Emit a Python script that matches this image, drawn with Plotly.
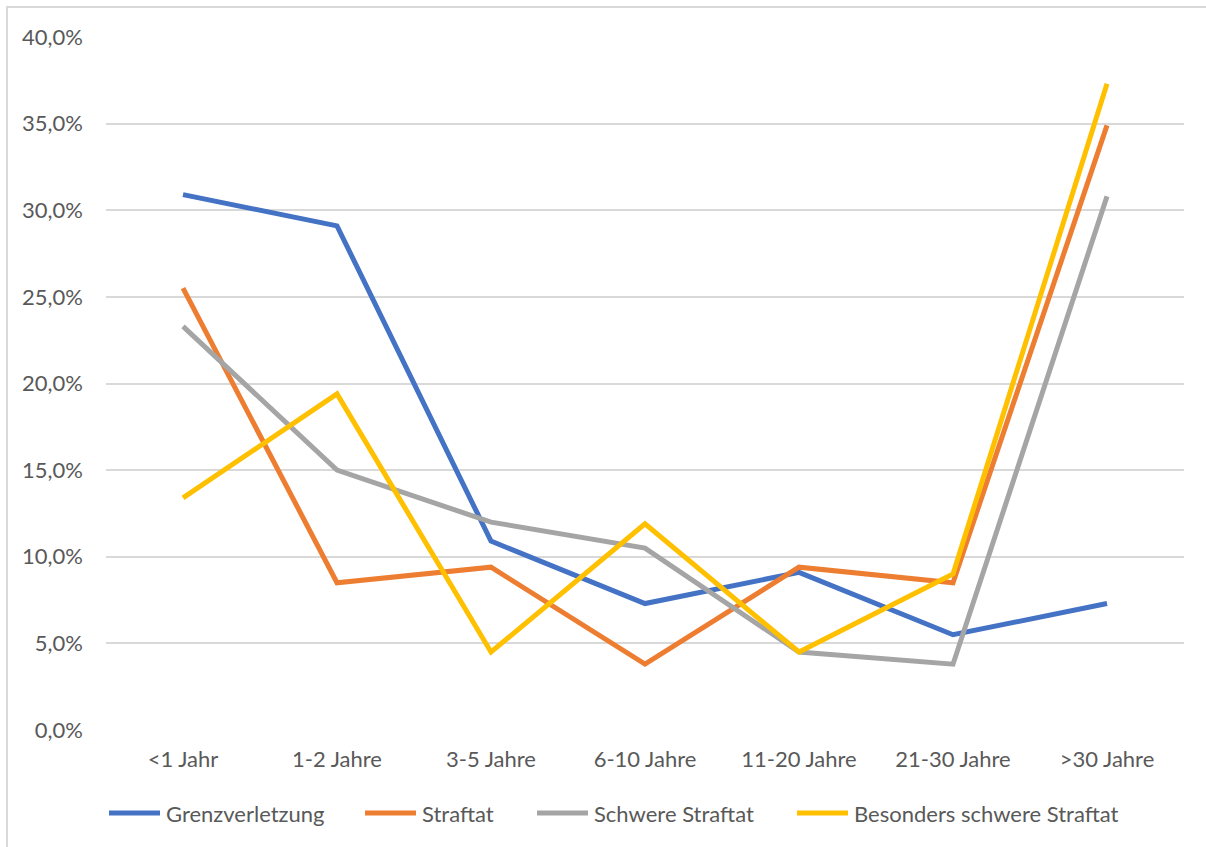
import plotly.graph_objects as go

# Dauer-Kategorien und Anteile je Deliktschwere
kategorien = ["<1 Jahr", "1-2 Jahre", "3-5 Jahre", "6-10 Jahre", "11-20 Jahre", "21-30 Jahre", ">30 Jahre"]

grenzverletzung = [0.309, 0.291, 0.109, 0.073, 0.091, 0.055, 0.073]
straftat = [0.255, 0.085, 0.094, 0.038, 0.094, 0.085, 0.349]
schwere_straftat = [0.233, 0.150, 0.120, 0.105, 0.045, 0.038, 0.308]
besonders_schwere_straftat = [0.134, 0.194, 0.045, 0.119, 0.045, 0.090, 0.373]

serien = [
    ("Grenzverletzung", grenzverletzung, "#4472C4"),
    ("Straftat", straftat, "#ED7D31"),
    ("Schwere Straftat", schwere_straftat, "#A5A5A5"),
    ("Besonders schwere Straftat", besonders_schwere_straftat, "#FFC000"),
]

# Geometrie des Zeichenbereichs (Pixel)
BREITE, HOEHE = 1206, 847
RAND_L, RAND_R, RAND_O, RAND_U = 106, 22, 37, 117
plot_w = BREITE - RAND_L - RAND_R
plot_h = HOEHE - RAND_O - RAND_U


def px_x(px):
    return (px - RAND_L) / plot_w


def px_y(py):
    return (HOEHE - RAND_U - py) / plot_h


schrift = dict(family="Lato, Open Sans, sans-serif", size=22, color="#595959")

fig = go.Figure()
for name, werte, farbe in serien:
    fig.add_trace(go.Scatter(
        x=kategorien, y=werte, name=name, mode="lines",
        line=dict(color=farbe, width=5),
        showlegend=False,
    ))

# Legende unter dem Diagramm: Linienmuster + Beschriftung
legende_start = [107, 363, 535, 795]
muster_laenge = 55
legende_y = px_y(813)
formen = [dict(type="rect", xref="paper", yref="paper",
               x0=px_x(7), x1=px_x(BREITE + 20), y0=px_y(HOEHE + 20), y1=px_y(7),
               line=dict(color="#D9D9D9", width=2), fillcolor="rgba(0,0,0,0)",
               layer="below")]
beschriftungen = []
for (name, _, farbe), start in zip(serien, legende_start):
    formen.append(dict(type="line", xref="paper", yref="paper",
                       x0=px_x(start + 2), x1=px_x(start + muster_laenge - 2),
                       y0=legende_y, y1=legende_y,
                       line=dict(color=farbe, width=5)))
    beschriftungen.append(dict(text=name, xref="paper", yref="paper",
                               x=px_x(start + muster_laenge + 2), y=legende_y,
                               xanchor="left", yanchor="middle", showarrow=False,
                               font=schrift))

fig.update_layout(
    width=BREITE, height=HOEHE,
    margin=dict(l=RAND_L, r=RAND_R, t=RAND_O, b=RAND_U),
    paper_bgcolor="white", plot_bgcolor="white",
    separators=",.",
    font=schrift,
    showlegend=False,
    xaxis=dict(showgrid=False, showline=False, zeroline=False, ticks="",
               ticklabelstandoff=14, tickfont=schrift,
               range=[-0.5, 6.5]),
    yaxis=dict(range=[0, 0.40], dtick=0.05, tickformat=".1%",
               showgrid=True, gridcolor="#D9D9D9", gridwidth=1.5,
               zeroline=False, showline=False, ticks="",
               ticklabelstandoff=22, tickfont=schrift),
    shapes=formen,
    annotations=beschriftungen,
)

fig.write_html("out.html")
